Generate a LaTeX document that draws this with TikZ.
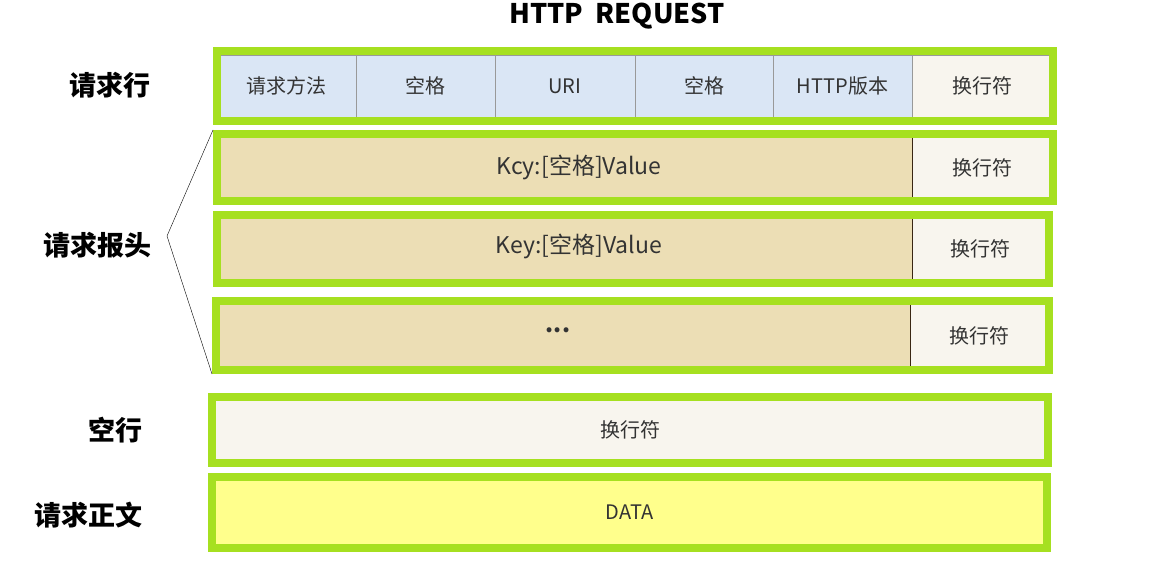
\documentclass[tikz,border=0pt]{standalone}
\usepackage{fontspec}
\setmainfont{Noto Sans CJK SC}
\usepackage{tikz}

\definecolor{framegreen}{RGB}{166,224,32}
\definecolor{lineblue}{RGB}{218,230,245}
\definecolor{keybeige}{RGB}{236,222,181}
\definecolor{crlfwhite}{RGB}{248,245,238}
\definecolor{datayellow}{RGB}{255,255,140}

\begin{document}
\begin{tikzpicture}[x=1pt,y=-1pt]
  \tikzstyle{Cell}=[rectangle,draw=black!40,thin,inner sep=0pt,
                    text=black!80,font=\fontsize{20}{24}\selectfont]
  \tikzstyle{KeyCell}=[Cell,draw=black!70!brown,fill=keybeige]
  \tikzstyle{KeyText}=[text=black!80,font=\fontsize{23}{27}\selectfont]
  \tikzstyle{Frame}=[rectangle,draw=framegreen,line width=8pt,inner sep=0pt]
  \tikzstyle{Part}=[font=\fontsize{27}{31}\selectfont\bfseries]
  \useasboundingbox (0,0) rectangle (1156,588);

  \node [font=\fontsize{27}{32}\selectfont\bfseries] (title) at (617,16) {HTTP\ \ REQUEST};

  % request line
  \node [Cell,fill=lineblue,minimum width=139,minimum height=62] (method) at (286.5,86) {请求方法};
  \node [Cell,fill=lineblue,minimum width=139,minimum height=62] (spaceone) at (425.5,86) {空格};
  \node [Cell,fill=lineblue,minimum width=140,minimum height=62] (uri) at (565,86) {URI};
  \node [Cell,fill=lineblue,minimum width=138,minimum height=62] (spacetwo) at (704,86) {空格};
  \node [Cell,fill=lineblue,minimum width=139,minimum height=62] (version) at (842.5,86) {HTTP版本};
  \node [Cell,fill=crlfwhite,minimum width=141,minimum height=62] (crlfline) at (982.5,86) {换行符};
  \node [Frame,minimum width=836,minimum height=70] (reqline) at (635,86) {};

  % header lines
  \node [Cell,draw=none,fill=crlfwhite,minimum width=141,minimum height=67] (crlfone) at (982.5,167.5) {换行符};
  \node [KeyCell,minimum width=695,minimum height=67] (keyone) at (564.5,167.5) {};
  \node [KeyText] (keyonetext) at (579,167) {Kcy:[空格]Value};
  \node [Frame,minimum width=836,minimum height=67] (hdrone) at (635,167.5) {};

  \node [Cell,draw=none,fill=crlfwhite,minimum width=137,minimum height=68] (crlftwo) at (980.5,249) {换行符};
  \node [KeyCell,minimum width=695,minimum height=68] (keytwo) at (564.5,249) {};
  \node [KeyText] (keytwotext) at (579,246) {Key:[空格]Value};
  \node [Frame,minimum width=832,minimum height=68] (hdrtwo) at (633,249) {};

  \node [Cell,draw=none,fill=crlfwhite,minimum width=139,minimum height=69] (crlfthree) at (979.5,335.5) {换行符};
  \node [KeyCell,minimum width=694,minimum height=69] (keythree) at (563,335.5) {};
  \node [KeyText] (keythreetext) at (558,330) {\textbf{...}};
  \node [Frame,minimum width=833,minimum height=69] (hdrthree) at (632.5,335.5) {};

  % blank line and body
  \node [Cell,draw=none,fill=crlfwhite,minimum width=836,minimum height=66] (crlfblank) at (630,430) {换行符};
  \node [Frame,minimum width=836,minimum height=66] (blank) at (630,430) {};

  \node [Cell,draw=none,fill=datayellow,minimum width=835,minimum height=71] (data) at (629.5,512.5) {DATA};
  \node [Frame,minimum width=835,minimum height=71] (body) at (629.5,512.5) {};

  % left labels
  \node [Part] (lreq) at (110,85) {请求行};
  \node [Part] (lhdr) at (97,245) {请求报头};
  \node [Part] (lblank) at (115,430) {空行};
  \node [Part] (lbody) at (88,515) {请求正文};

  \coordinate (apex) at (167,236);
  \draw [thin] (hdrone.north west) -- (apex) -- (hdrthree.south west);
\end{tikzpicture}
\end{document}
